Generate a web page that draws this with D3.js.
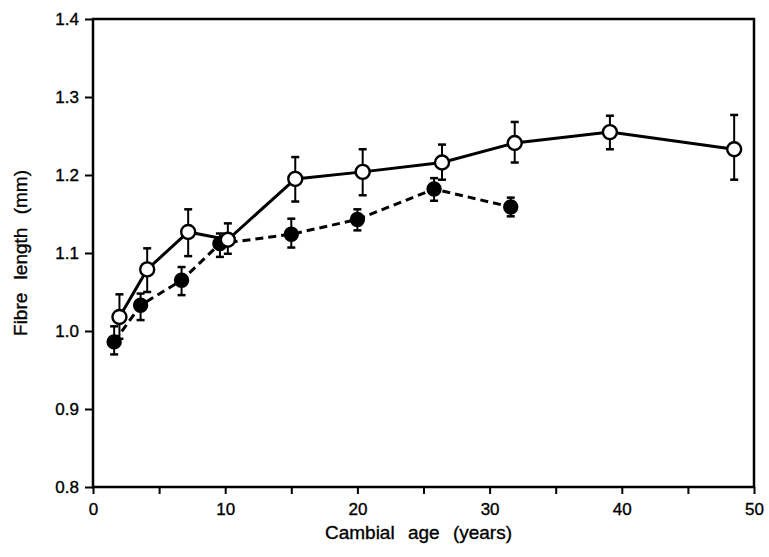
<!DOCTYPE html>
<html>
<head>
<meta charset="utf-8">
<script src="https://cdn.jsdelivr.net/npm/d3@7"></script>
<style>
  body { margin: 0; background: #fff; }
  text { font-family: "Liberation Sans", Arial, sans-serif; fill: #000; stroke: #000; stroke-width: 0.35px; }
</style>
</head>
<body>
<div class="chart"></div>
<script>
// open circles, solid line
const openAge = [2.0, 4.1, 7.2, 10.2, 15.3, 20.4, 26.4, 31.9, 39.1, 48.5];
const openLen = [1.018, 1.079, 1.127, 1.117, 1.195, 1.204, 1.216, 1.241, 1.255, 1.233];
const openErrHi = [1.047, 1.106, 1.156, 1.138, 1.223, 1.233, 1.239, 1.268, 1.276, 1.277];
const openErrLo = [0.99, 1.050, 1.096, 1.099, 1.166, 1.174, 1.194, 1.216, 1.233, 1.194];

// filled circles, dashed line
const fillAge = [1.6, 3.6, 6.7, 9.6, 15.0, 20.0, 25.8, 31.6];
const fillLen = [0.986, 1.033, 1.065, 1.112, 1.124, 1.143, 1.182, 1.159];
const fillErrHi = [1.006, 1.048, 1.082, 1.125, 1.144, 1.156, 1.196, 1.171];
const fillErrLo = [0.970, 1.014, 1.046, 1.095, 1.107, 1.129, 1.167, 1.147];

const xTicks = [0, 10, 20, 30, 40, 50];
const xMinor = [5, 15, 25, 35, 45];
const yTicks = [0.8, 0.9, 1.0, 1.1, 1.2, 1.3, 1.4];

const margin = ({top: 19, right: 15, bottom: 70, left: 93});
const W = 769, H = 557;
const width = W - margin.left - margin.right,
    height = H - margin.top - margin.bottom;

const svg = d3.select('.chart').append('svg')
    .attr('width', W)
    .attr('height', H)
    .append('g')
    .attr('transform', `translate(${margin.left},${margin.top})`);

const xScale = d3.scaleLinear().domain([0, 50]).range([0, width]);
const yScale = d3.scaleLinear().domain([0.8, 1.4]).range([height, 0]);

// frame
svg.append('rect')
    .attr('x', 0).attr('y', 0)
    .attr('width', width).attr('height', height)
    .attr('fill', 'none')
    .attr('stroke', '#000')
    .attr('stroke-width', 2.5);

const xAxis = d3.axisBottom(xScale).tickValues(xTicks).tickSize(7).tickPadding(9).tickFormat(d3.format('d'));
svg.append('g')
    .attr('class', 'axis x-axis')
    .attr('transform', `translate(0,${height})`)
    .call(xAxis);
svg.append('g')
    .attr('transform', `translate(0,${height})`)
    .call(d3.axisBottom(xScale).tickValues(xMinor).tickSize(7).tickFormat(''))
    .call(g => g.select('.domain').remove());

const yAxis = d3.axisLeft(yScale).tickValues(yTicks).tickSize(8).tickPadding(6).tickFormat(d3.format('.1f'));
svg.append('g')
    .attr('class', 'axis y-axis')
    .call(yAxis);

svg.selectAll('.axis .domain').remove();
svg.selectAll('.tick line').attr('stroke', '#000').attr('stroke-width', 2);
svg.selectAll('.axis text')
    .attr('font-size', 17)
    .attr('font-family', '"Liberation Sans", Arial, sans-serif')
    .attr('fill', '#000');

svg.append('text')
    .text('Cambial age (years)')
    .attr('x', xScale(25) - 5)
    .attr('y', height + 52)
    .attr('text-anchor', 'middle')
    .attr('font-size', 19)
    .attr('word-spacing', 8);

svg.append('text')
    .text('Fibre length (mm)')
    .attr('transform', `translate(${-66},${yScale(1.1)}) rotate(-90)`)
    .attr('text-anchor', 'middle')
    .attr('font-size', 19)
    .attr('word-spacing', 8);

function drawSeries(age, len, hi, lo, dashed, filled) {
    const pts = age.map((a, i) => ({a: a, v: len[i], hi: hi[i], lo: lo[i]}));
    const line = d3.line().x(d => xScale(d.a)).y(d => yScale(d.v));
    svg.append('path')
        .datum(pts)
        .attr('d', line)
        .attr('fill', 'none')
        .attr('stroke', '#000')
        .attr('stroke-width', 3)
        .attr('stroke-dasharray', dashed ? '8,5' : null);
    const eb = svg.append('g').selectAll('g')
        .data(pts)
        .enter()
        .append('g')
        .attr('stroke', '#000')
        .attr('stroke-width', 2);
    eb.append('line')
        .attr('x1', d => xScale(d.a)).attr('x2', d => xScale(d.a))
        .attr('y1', d => yScale(d.hi)).attr('y2', d => yScale(d.lo));
    eb.append('line')
        .attr('x1', d => xScale(d.a) - 4).attr('x2', d => xScale(d.a) + 4)
        .attr('y1', d => yScale(d.hi)).attr('y2', d => yScale(d.hi))
        .attr('stroke-width', 2.5);
    eb.append('line')
        .attr('x1', d => xScale(d.a) - 4).attr('x2', d => xScale(d.a) + 4)
        .attr('y1', d => yScale(d.lo)).attr('y2', d => yScale(d.lo))
        .attr('stroke-width', 2.5);
    svg.append('g').selectAll('circle')
        .data(pts)
        .enter()
        .append('circle')
        .attr('cx', d => xScale(d.a))
        .attr('cy', d => yScale(d.v))
        .attr('r', filled ? 6.5 : 7)
        .attr('fill', filled ? '#000' : '#fff')
        .attr('stroke', '#000')
        .attr('stroke-width', 2.4);
}

drawSeries(fillAge, fillLen, fillErrHi, fillErrLo, true, true);
drawSeries(openAge, openLen, openErrHi, openErrLo, false, false);
</script>
</body>
</html>
